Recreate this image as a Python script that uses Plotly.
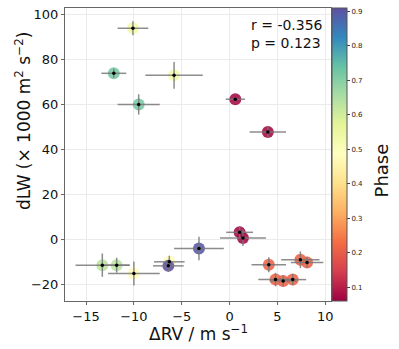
import plotly.graph_objects as go

# delta RV (m/s), dLW (x1000 m^2 s^-2), errors, phase
rv = [-10.1, -12.1, -5.8, -9.5, 0.6, 4.0,
      -13.3, -11.8, -10.0, -6.3, -6.4, -3.2, 1.05, 1.4,
      4.1, 4.8, 5.6, 6.6, 7.4, 8.1]
dlw = [93.9, 73.9, 73.0, 60.1, 62.4, 47.8,
       -11.3, -11.3, -15.0, -9.8, -11.6, -3.9, 3.3, 0.8,
       -11.1, -17.7, -18.3, -17.7, -8.9, -10.1]
rv_err = [1.6, 1.3, 3.0, 2.2, 1.0, 1.9,
          2.8, 1.4, 2.7, 1.6, 1.6, 2.6, 1.4, 2.4,
          1.8, 1.8, 1.4, 1.4, 2.0, 1.7]
dlw_err = [3.1, 2.0, 5.9, 4.5, 1.0, 2.5,
           5.2, 3.3, 5.3, 2.7, 2.7, 5.2, 2.6, 3.6,
           3.3, 3.0, 2.5, 2.5, 3.7, 2.5]
phase = [0.53, 0.72, 0.53, 0.72, 0.07, 0.07,
         0.63, 0.63, 0.48, 0.48, 0.91, 0.90, 0.07, 0.07,
         0.21, 0.21, 0.21, 0.21, 0.21, 0.21]

fig = go.Figure()

# coloured phase markers
fig.add_trace(go.Scatter(
    x=rv, y=dlw, mode="markers",
    marker=dict(size=12, color=phase, colorscale="Spectral",
                cmin=0.06, cmax=0.91, opacity=0.88,
                colorbar=dict(
                    x=1.0, xanchor="left", xpad=1, thickness=15,
                    len=1.0, y=0.5, ypad=0,
                    outlinecolor="#555", outlinewidth=1,
                    tickvals=[0.1, 0.2, 0.3, 0.4, 0.5, 0.6, 0.7, 0.8, 0.9],
                    ticks="outside", ticklen=3, tickcolor="#444",
                    tickfont=dict(size=7, color="#222"),
                )),
    hoverinfo="skip", showlegend=False,
))

# error bars with black centre dots
fig.add_trace(go.Scatter(
    x=rv, y=dlw, mode="markers",
    marker=dict(size=3.5, color="black"),
    error_x=dict(type="data", array=rv_err, color="rgba(120,120,120,0.85)",
                 thickness=1.5, width=0),
    error_y=dict(type="data", array=dlw_err, color="rgba(120,120,120,0.85)",
                 thickness=1.5, width=0),
    showlegend=False,
))

fig.add_annotation(
    x=0.69, y=0.975, xref="paper", yref="paper",
    xanchor="left", yanchor="top", align="left",
    text="r = -0.356<br>p = 0.123", showarrow=False,
    font=dict(size=14, color="#111"),
)

# axis / colorbar titles as annotations so they sit where the reference has them
fig.add_annotation(
    x=0.5, y=-0.11, xref="paper", yref="paper",
    xanchor="center", yanchor="middle",
    text="\u0394RV / m s<sup>\u22121</sup>", showarrow=False,
    font=dict(size=17, color="#111"),
)
fig.add_annotation(
    x=-0.158, y=0.614, xref="paper", yref="paper",
    xanchor="center", yanchor="middle", textangle=-90,
    text="dLW (\u00d7 1000 m<sup>2</sup> s<sup>\u22122</sup>)", showarrow=False,
    font=dict(size=17, color="#111"),
)
fig.add_annotation(
    x=1.19, y=0.444, xref="paper", yref="paper",
    xanchor="center", yanchor="middle", textangle=-90,
    text="Phase", showarrow=False,
    font=dict(size=18, color="#111"),
)

axis_common = dict(
    showgrid=True, gridcolor="#ebebeb", gridwidth=1,
    zeroline=False, showline=True, linecolor="#666", linewidth=1,
    mirror=True, ticks="outside", ticklen=3, tickcolor="#666",
    tickfont=dict(size=13, color="#111"), automargin=False,
)

fig.update_layout(
    width=399, height=349,
    margin=dict(l=65, r=68, t=8, b=48),
    paper_bgcolor="white", plot_bgcolor="white",
    font=dict(family="DejaVu Sans"),
    xaxis=dict(range=[-17.2, 10.6], tickvals=[-15, -10, -5, 0, 5, 10],
               ticktext=["\u221215", "\u221210", "\u22125", "0", "5", "10"],
               **axis_common),
    yaxis=dict(range=[-27.2, 102.9], tickvals=[-20, 0, 20, 40, 60, 80, 100],
               ticktext=["\u221220", "0", "20", "40", "60", "80", "100"],
               **axis_common),
)

# drop the default page margin so the figure sits at the window's top-left
fig.write_html("out.html", config={"displayModeBar": False},
               post_script="document.body.style.margin='0px';")
